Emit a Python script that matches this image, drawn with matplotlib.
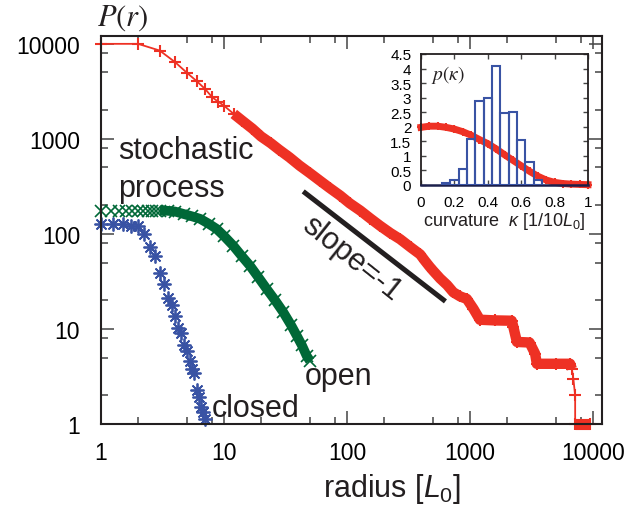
import matplotlib
matplotlib.use('Agg')
import matplotlib.pyplot as plt
import matplotlib.ticker as ticker
import numpy as np

plt.rcParams['font.family'] = ['Liberation Sans', 'DejaVu Sans']
plt.rcParams['mathtext.fontset'] = 'custom'
plt.rcParams['mathtext.rm'] = 'Liberation Sans'
plt.rcParams['mathtext.it'] = 'Liberation Sans:italic'

RED = '#ee3124'
GREEN = '#006837'
BLUE = '#3953a4'
DARK = '#231f20'

# stochastic process P(r)
red_r = [1, 2, 3, 4, 5, 6, 7, 8, 9, 10, 12, 14, 17, 20, 24, 28, 34, 41, 50, 60,
         72, 88, 105, 128, 155, 185, 225, 270, 330, 392, 430, 470, 500, 570, 650,
         730, 830, 940, 1064, 1200, 1600, 2180, 2250, 2400, 3040, 3375, 3485, 5000,
         6500, 6710, 6900, 7140, 7140, 9400]
red_p = [10000, 10000, 8500, 6420, 4950, 4050, 3360, 2750, 2450, 2230, 1830, 1560,
         1280, 1060, 900, 770, 640, 525, 435, 364, 305, 253, 210, 176, 145, 122,
         102, 88, 72, 61, 52, 45, 41, 34, 29, 24.3, 22, 20.7, 16.3, 12.5, 12.3,
         12.2, 10.4, 7.3, 7.2, 5.5, 4.3, 4.3, 4.3, 3.8, 3.0, 2.0, 1.0, 1.0]

# open curves
green_r = [1.0, 1.2, 1.4, 1.6, 1.8, 2.0, 2.2, 2.4, 2.6, 2.8, 3.0, 3.5, 4.0, 4.7,
           5.5, 6.4, 7.5, 8.7, 10, 11.9, 14, 16.3, 19, 22.2, 26, 30.3, 35, 39,
           43, 47, 50]
green_p = [176, 176, 176, 176, 176, 176, 176, 176, 176, 176, 176, 175, 172, 162,
           153, 144, 128, 113, 95, 75, 58, 46, 35, 26.4, 20, 15, 11, 8.5, 6.7,
           5.2, 4.6]

# closed curves
blue_r = [1, 1.25, 1.5, 1.75, 2, 2.25, 2.5, 2.75, 3, 3.25, 3.5, 3.75, 4, 4.25,
          4.5, 4.75, 5, 5.25, 5.5, 5.75, 6, 6.25, 6.5, 6.75, 7]
blue_p = [127, 127, 127, 122, 122, 100, 72, 58, 39, 30, 21, 18, 13.6, 10.2, 9.1,
          6.8, 5.9, 4.6, 3.8, 3.4, 2.3, 1.9, 1.5, 1.33, 1.13]

slope_r = [44, 630]
slope_p = [280, 19.5]

# inset: curvature distribution
kappa = [0, 0.05, 0.1, 0.15, 0.2, 0.25, 0.3, 0.35, 0.4, 0.45, 0.5, 0.55, 0.6,
         0.65, 0.7, 0.75, 0.8, 0.85, 0.9, 0.95, 1.0]
p_kappa = [1.98, 2.02, 2.02, 1.98, 1.92, 1.83, 1.71, 1.56, 1.42, 1.24, 1.04,
           0.85, 0.66, 0.47, 0.30, 0.17, 0.09, 0.05, 0.03, 0.02, 0.01]
hist_edges = [0.125, 0.175, 0.225, 0.275, 0.325, 0.375, 0.425, 0.475, 0.525,
              0.575, 0.625, 0.675, 0.725]
hist_vals = [0.07, 0.18, 0.55, 1.58, 2.9, 3.0, 4.1, 2.46, 2.5, 1.55, 0.8, 0.16]

fig = plt.figure(figsize=(6.25, 5.1), dpi=100)
ax = fig.add_axes([0.1616, 0.1667, 0.8016, 0.7608])
ax.set_xscale('log')
ax.set_yscale('log')

rr = np.array(red_r, dtype=float)
rp = np.array(red_p, dtype=float)
gr = np.array(green_r)
gp = np.array(green_p)

# slope guide
ax.plot(slope_r, slope_p, color=DARK, lw=3.6, solid_capstyle='butt')

# closed
ax.plot(blue_r, blue_p, ls='none', marker=(8, 2, 0), ms=10, mew=1.3,
        color=BLUE, clip_on=False)

# open
m = gr >= 3
ax.plot(gr[m], gp[m], color=GREEN, lw=7, solid_capstyle='butt')
ax.plot(gr, gp, ls='none', marker='x', ms=8, mew=1.2, color=GREEN, clip_on=False)

# stochastic process
ax.plot(rr, rp, color=RED, lw=1.3, marker='+', ms=9, mew=1.5, clip_on=False)
m = (rr >= 11) & (rr <= 6710)
ax.plot(rr[m], rp[m], color=RED, lw=7.5, solid_capstyle='butt')
m = (rr >= 7140) & (rp <= 1.0)
ax.plot(rr[m], rp[m], color=RED, lw=8, solid_capstyle='butt', clip_on=False)

ax.set_xlim(1, 11800)
ax.set_ylim(1, 12100)

fmt = ticker.FuncFormatter(lambda v, pos: f'{v:g}')
for axis in (ax.xaxis, ax.yaxis):
    axis.set_major_locator(ticker.LogLocator(base=10, numticks=10))
    axis.set_minor_locator(ticker.LogLocator(base=10, subs=[2, 5, 8], numticks=10))
    axis.set_major_formatter(fmt)
    axis.set_minor_formatter(ticker.NullFormatter())
ax.tick_params(which='both', direction='in', top=True, right=True,
               color='#444444', width=1.1, labelsize=16.5)
ax.tick_params(which='major', length=9.5)
ax.tick_params(which='minor', length=5)
ax.tick_params(axis='y', pad=15)
ax.tick_params(axis='x', pad=12)
for s in ax.spines.values():
    s.set_color(DARK)
    s.set_linewidth(1.5)

# labels inside
ax.text(1.375, 631, 'stochastic', fontsize=22, color=DARK, va='baseline')
ax.text(1.375, 251, 'process', fontsize=22, color=DARK, va='baseline')
ax.text(45.6, 2.64, 'open', fontsize=22, color=DARK, va='baseline')
ax.text(8.0, 1.21, 'closed', fontsize=22, color=DARK, va='baseline')
ax.text(108, 56, 'slope=-1', fontsize=22, color=DARK, rotation=-38.6,
        rotation_mode='anchor', ha='center', va='center')

fig.text(392 / 625, 13 / 510, r'radius [$L_0$]', fontsize=22, color=DARK,
         ha='center', va='baseline')
fig.text(123 / 625, 0.965, r'$P(r)$', fontsize=22, color=DARK, ha='center',
         va='center', math_fontfamily='stix')

# inset
axi = fig.add_axes([0.6736, 0.6353, 0.2672, 0.2569])
axi.plot(kappa, p_kappa, color=RED, lw=5, marker='+', ms=6, mew=1.5,
         clip_on=False, zorder=2)
axi.hist(hist_edges[:-1], bins=hist_edges, weights=hist_vals, histtype='bar',
         fill=False, edgecolor=BLUE, linewidth=1.5, zorder=3)
axi.set_xlim(0, 1)
axi.set_ylim(0, 4.5)
axi.xaxis.set_major_locator(ticker.MultipleLocator(0.2))
axi.yaxis.set_major_locator(ticker.MultipleLocator(0.5))
axi.xaxis.set_major_formatter(ticker.FuncFormatter(lambda v, pos: f'{v:g}'))
axi.yaxis.set_major_formatter(ticker.FuncFormatter(lambda v, pos: f'{v:g}'))
axi.tick_params(direction='in', top=True, right=True, length=3.6, width=1,
                color='#444444', labelsize=11, pad=7)
for s in axi.spines.values():
    s.set_color(DARK)
    s.set_linewidth(1.3)
axi.spines['bottom'].set_color('#1b1f4b')
axi.spines['bottom'].set_linewidth(1.8)
axi.set_xlabel(r'curvature  $\kappa$ [1/10$L_0$]', fontsize=13, color=DARK,
               labelpad=1)
axi.text(0.06, 0.847, r'$p(\kappa)$', transform=axi.transAxes, fontsize=14,
         color=DARK, va='center', ha='left', math_fontfamily='stix')

fig.savefig('out.png', dpi=100)
